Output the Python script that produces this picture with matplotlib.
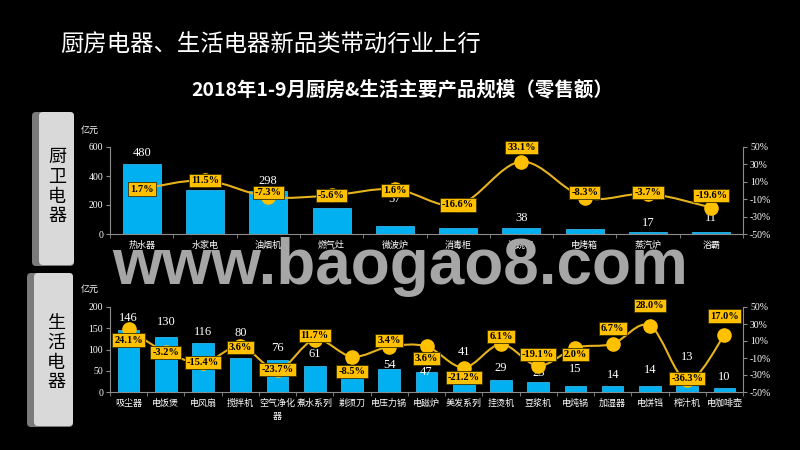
import numpy as np
import matplotlib
matplotlib.use('Agg')
import matplotlib.pyplot as plt
from matplotlib.path import Path
from matplotlib.patches import PathPatch, FancyBboxPatch

# data
kitchen_cats = ['热水器', '水家电', '油烟机', '燃气灶', '微波炉', '消毒柜', '洗碗机', '电烤箱', '蒸汽炉', '浴霸']
kitchen_sales = [480, 302, 298, 182, 57, 41, 38, 37, 17, 11]
kitchen_growth = [1.7, 11.5, -7.3, -5.6, 1.6, -16.6, 33.1, -8.3, -3.7, -19.6]

life_cats = ['吸尘器', '电饭煲', '电风扇', '搅拌机', '空气净化\n器', '煮水系列', '剃须刀', '电压力锅', '电磁炉',
             '美发系列', '挂烫机', '豆浆机', '电炖锅', '加湿器', '电饼铛', '榨汁机', '电咖啡壶']
life_sales = [146, 130, 116, 80, 76, 61, 60, 54, 47, 41, 29, 23, 15, 14, 14, 13, 10]
life_growth = [24.1, -3.2, -15.4, 3.6, -23.7, 11.7, -8.5, 3.4, 3.6, -21.2, 6.1, -19.1, 2.0, 6.7, 28.0, -36.3, 17.0]

# label nudges (pixels) so labels sit where they do in the original
kitchen_val_dy = [11, 10, 10, 11, 27, 23, 10, 31, 9, 14]
kitchen_pct_dy = [0, 0, 4, 0, -1, 0, 14, 5, 1, 12]
life_val_dy = [12, 15, 11, 25, 12, 12, 6, 4, 0, 23, 12, 9, 17, 11, 16, 29, 11]
life_pct_dy = [-11, 0, 0, -1, 0, 4, -15, 6, -12, -10, 8, 11, -7, 15, 20, 2, 19]

CJK = ['Noto Sans CJK SC', 'DejaVu Sans']
SERIF = ['Liberation Serif', 'DejaVu Serif']
BAR = '#00b0f0'
GOLD = '#ffc000'
LINE = '#e6b31e'
GRAY = '#8c8c8c'

fig = plt.figure(figsize=(8, 4.5), dpi=100, facecolor='black')

# background layer in pixel coords for the side boxes
bg = fig.add_axes([0, 0, 1, 1])
bg.set_xlim(0, 800)
bg.set_ylim(450, 0)
bg.axis('off')


def side_box(x0, y0, x1, y1, chars, cx, cy0):
    bg.add_patch(FancyBboxPatch((x0 + 4, y0 + 4), x1 - x0 - 8, y1 - y0 - 8,
                                boxstyle='round,pad=4', fc='#7a7a7a', ec='none'))
    bg.add_patch(FancyBboxPatch((x0 + 11, y0 + 4), x1 - x0 - 15, y1 - y0 - 9,
                                boxstyle='round,pad=4', fc='#d9d9d9', ec='none'))
    for i, ch in enumerate(chars):
        bg.text(cx, cy0 + i * 19.8, ch, ha='center', va='center', fontsize=13,
                color='black', family=CJK)


side_box(32, 112, 74, 266, '厨卫电器', 57, 157)
side_box(27, 273, 73, 427, '生活电器', 56, 323)


def smooth_path(xs, ys):
    pts = np.column_stack([xs, ys]).astype(float)
    n = len(pts)
    verts = [pts[0]]
    codes = [Path.MOVETO]
    for i in range(n - 1):
        p0 = pts[i - 1] if i > 0 else pts[i]
        p1, p2 = pts[i], pts[i + 1]
        p3 = pts[i + 2] if i + 2 < n else pts[i + 1]
        verts += [p1 + (p2 - p0) / 6, p2 - (p3 - p1) / 6, p2]
        codes += [Path.CURVE4] * 3
    return Path(verts, codes)


def combo(rect, cats, sales, growth, ymax, ystep, val_dy, pct_dy, bar_w):
    ax = fig.add_axes(rect)
    ax.set_facecolor('none')
    x = np.arange(len(cats))
    ax.bar(x, sales, width=bar_w, color=BAR, edgecolor='#3cc8ff', linewidth=0.5)
    for xi, v, dy in zip(x, sales, val_dy):
        ax.annotate(str(v), (xi, v), xytext=(0, dy), textcoords='offset pixels',
                    ha='center', va='center', color='white', fontsize=9, family=SERIF)
    ax.set_xlim(-0.5, len(cats) - 0.5)
    ax.set_ylim(0, ymax)
    ax.set_yticks(np.arange(0, ymax + 1, ystep))
    ax.set_xticks(x)
    ax.set_xticklabels(cats, family=CJK, fontsize=6.5, color='white', linespacing=1.5)
    ax.set_xticks(np.arange(len(cats) + 1) - 0.5, minor=True)
    ax.tick_params(axis='x', which='major', length=0, pad=5)
    ax.tick_params(axis='x', which='minor', length=3, color=GRAY, direction='out')
    ax.tick_params(axis='y', length=3, color=GRAY, labelcolor='white', labelsize=7, pad=2)
    for lab in ax.get_yticklabels():
        lab.set_family(SERIF)
    for s in ['top', 'right']:
        ax.spines[s].set_visible(False)
    for s in ['left', 'bottom']:
        ax.spines[s].set_color(GRAY)

    ax2 = ax.twinx()
    ax2.set_ylim(-50, 50)
    ticks = np.arange(-50, 51, 20)
    ax2.set_yticks(ticks)
    ax2.set_yticklabels([f'{t}%' for t in ticks], family=SERIF, fontsize=7, color='white')
    ax2.tick_params(axis='y', length=3, color=GRAY, pad=2)
    for s in ['top', 'left', 'bottom']:
        ax2.spines[s].set_visible(False)
    ax2.spines['right'].set_color(GRAY)
    ax2.add_patch(PathPatch(smooth_path(x, growth), fc='none', ec=LINE, lw=1.5, zorder=2))
    ax2.plot(x, growth, 'o', color=GOLD, markersize=9.5, zorder=3)
    for xi, g, dy in zip(x, growth, pct_dy):
        ax2.annotate(f'{g:.1f}%', (xi, g), xytext=(0, dy), textcoords='offset pixels',
                     ha='center', va='center', fontsize=7.5, fontweight='bold',
                     family=SERIF, color='black', zorder=4,
                     bbox=dict(boxstyle='square,pad=0.2', fc=GOLD, ec='#3a3000', lw=0.6))
    return ax, ax2


top_ax, _ = combo([110 / 800, 1 - 234 / 450, 633 / 800, 87 / 450], kitchen_cats, kitchen_sales,
                  kitchen_growth, 600, 200, kitchen_val_dy, kitchen_pct_dy, 0.6)
bot_ax, _ = combo([110 / 800, 1 - 392 / 450, 633 / 800, 85 / 450], life_cats, life_sales,
                  life_growth, 200, 50, life_val_dy, life_pct_dy, 0.58)

fig.text(90 / 800, 1 - 130 / 450, '亿元', ha='center', va='center', color='white',
         fontsize=6.5, family=CJK)
fig.text(90 / 800, 1 - 289 / 450, '亿元', ha='center', va='center', color='white',
         fontsize=6.5, family=CJK)

fig.text(60 / 800, 1 - 45 / 450, '厨房电器、生活电器新品类带动行业上行', ha='left', va='center',
         color='white', fontsize=16.8, family=CJK)
fig.text(402 / 800, 1 - 90 / 450, '2018年1-9月厨房&生活主要产品规模（零售额）', ha='center',
         va='center', color='white', fontsize=14, fontweight='bold', family=CJK)

# watermark
fig.text(400 / 800, 1 - 284 / 450, 'www.baogao8.com', ha='center', va='baseline',
         color='#a6a6a6', fontsize=46, fontweight='bold',
         family=['Liberation Sans', 'DejaVu Sans'], zorder=10)

fig.savefig('out.png', dpi=100, facecolor='black')
